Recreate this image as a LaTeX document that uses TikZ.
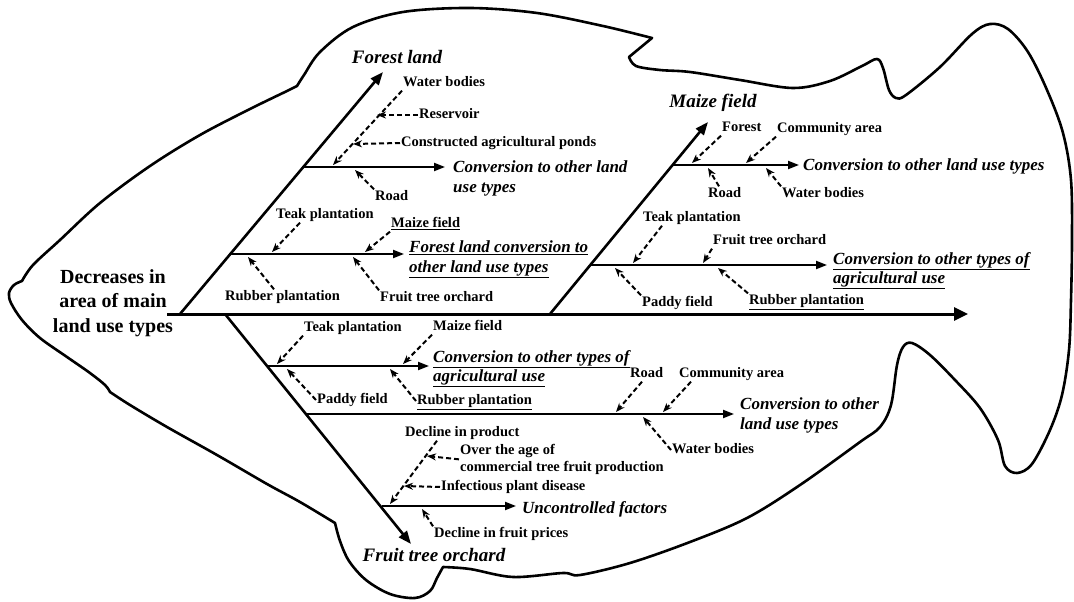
\documentclass[tikz,border=0pt]{standalone}
\usepackage{fontspec}
\setmainfont{Liberation Serif}
\usetikzlibrary{arrows.meta}

\begin{document}
\begin{tikzpicture}[x=1pt,y=-1pt,
    fish/.style={line width=2.6pt,line join=round},
    spine/.style={line width=3pt,-{Triangle[length=14pt,width=13pt]}},
    bone/.style={line width=2.6pt,-{Triangle[length=13pt,width=10pt]}},
    branch/.style={line width=2pt,-{Triangle[length=11pt,width=8pt]}},
    cause/.style={line width=2pt,dash pattern=on 5pt off 3pt,-{Stealth[length=9pt,width=7pt]}},
    lbl/.style={inner sep=1pt,text height=10pt,text depth=3pt,font=\fontsize{14.5}{17}\selectfont\bfseries},
    eff/.style={inner sep=1pt,align=left,font=\fontsize{17}{19.5}\selectfont\bfseries\itshape},
    head/.style={inner sep=1pt,font=\fontsize{19}{22}\selectfont\bfseries\itshape}]
\useasboundingbox (0,0) rectangle (1074,602);

% fish outline
\draw[fish] plot[smooth,tension=.55] coordinates {(22,281) (33,265) (60,240) (100,203) (150,166) (200,135) (250,109) (287,91) (297,86)}
    -- plot[smooth,tension=.55] coordinates {(297,86) (304,75) (320,52) (353,27) (403,12) (470,8) (537,13) (603,26) (652,38)}
    -- plot[smooth,tension=.55] coordinates {(629,57) (636,66) (660,70) (690,72) (740,80) (793,88) (830,81) (862,66) (877,59) (883,68) (889,90) (896,98)
        (906,95) (940,67) (972,34) (990,24) (1008,29) (1028,52) (1047,90) (1063,133) (1071,180) (1072,240) (1071,300) (1069,350) (1062,395)
        (1050,430) (1032,464) (1017,473) (1005,466) (998,440) (980,408) (955,380) (930,355) (912,343) (903,347) (897,365) (891,405) (880,427)
        (860,442) (800,485) (747,518) (690,542) (630,563) (580,575) (563,573) (513,577) (470,569) (443,567)}
    -- plot[smooth,tension=.55] coordinates {(443,567) (437,578) (430,591) (415,598) (390,594) (366,580) (349,561) (340,541) (335,523)}
    -- plot[smooth,tension=.55] coordinates {(335,523) (300,502) (267,484) (217,455) (167,427) (130,405) (110,392)}
    -- plot[smooth,tension=.55] coordinates {(110,392) (105,385) (90,373) (67,357) (40,338) (22,320) (11,303) (9,293) (14,285) (22,281)} -- cycle;

\node[align=center,inner sep=1pt,font=\fontsize{20}{24.5}\selectfont\bfseries] (top) at (113,303) {Decreases in\\area of main\\land use types};

% forest land
\node[head] (fl) at (397,57) {Forest land};
\node[lbl,anchor=west] (wb1) at (402,83) {Water bodies};
\node[lbl,anchor=west] (res) at (418,115) {Reservoir};
\node[lbl,anchor=west] (cap) at (400,143) {Constructed agricultural ponds};
\node[eff,anchor=north west] (ef1) at (452,160) {Conversion to other land\\use types};
\node[lbl,anchor=west] (rd1) at (374,197) {Road};
\node[lbl,anchor=west] (tp1) at (275,215) {Teak plantation};
\node[lbl,anchor=west] (mf1) at (390,224) {\underline{Maize field}};
\node[eff,anchor=north west] (ef2) at (408,240) {\underline{Forest land conversion to}\\\underline{other land use types}};
\node[lbl,anchor=west] (rp1) at (224,297) {Rubber plantation};
\node[lbl,anchor=west] (fo1) at (379,298) {Fruit tree orchard};

% maize field
\node[head] (mz) at (713,103) {Maize field};
\node[lbl,anchor=west] (fr2) at (721,128) {Forest};
\node[lbl,anchor=west] (ca2) at (776,129) {Community area};
\node[eff,anchor=west] (ef3) at (802,166) {Conversion to other land use types};
\node[lbl,anchor=west] (rd2) at (707,194) {Road};
\node[lbl,anchor=west] (wb2) at (781,194) {Water bodies};
\node[lbl,anchor=west] (tp2) at (642,218) {Teak plantation};
\node[lbl,anchor=west] (fo2) at (712,241) {Fruit tree orchard};
\node[eff,anchor=north west] (ef4) at (832,251) {\underline{Conversion to other types of}\\\underline{agricultural use}};
\node[lbl,anchor=west] (pf2) at (641,303) {Paddy field};
\node[lbl,anchor=west] (rp2) at (748,301) {\underline{Rubber plantation}};

% fruit tree orchard
\node[lbl,anchor=west] (tp3) at (303,328) {Teak plantation};
\node[lbl,anchor=west] (mf3) at (432,327) {Maize field};
\node[eff,anchor=north west] (ef5) at (432,349) {\underline{Conversion to other types of}\\\underline{agricultural use}};
\node[lbl,anchor=west] (pf3) at (316,400) {Paddy field};
\node[lbl,anchor=west] (rp3) at (416,401) {\underline{Rubber plantation}};
\node[lbl,anchor=west] (rd3) at (629,374) {Road};
\node[lbl,anchor=west] (ca3) at (678,374) {Community area};
\node[eff,anchor=north west] (ef6) at (739,397) {Conversion to other\\land use types};
\node[lbl,anchor=west] (wb3) at (671,450) {Water bodies};
\node[lbl,anchor=west] (dp) at (404,433) {Decline in product};
\node[inner sep=1pt,align=left,anchor=north west,font=\fontsize{14.5}{17}\selectfont\bfseries] (oa) at (459,443) {Over the age of\\commercial tree fruit production};
\node[lbl,anchor=west] (ipd) at (440,487) {Infectious plant disease};
\node[eff,anchor=west] (ef7) at (521,509) {Uncontrolled factors};
\node[lbl,anchor=west] (dfp) at (433,534) {Decline in fruit prices};
\node[head] (fto) at (434,555) {Fruit tree orchard};

% spine and bones
\coordinate (s0) at (167,314); \coordinate (s1) at (968,314);
\coordinate (fb0) at (180,314); \coordinate (fb1) at (383,72);
\coordinate (mb0) at (550,314); \coordinate (mb1) at (708,122);
\coordinate (ob0) at (225,314); \coordinate (ob1) at (411,544);
\coordinate (fa0) at (303,167); \coordinate (fa1) at (445,167);
\coordinate (fc0) at (229,254); \coordinate (fc1) at (404,254);
\coordinate (ma0) at (673,165); \coordinate (ma1) at (799,165);
\coordinate (mc0) at (590,265); \coordinate (mc1) at (827,265);
\coordinate (oa0) at (268,366); \coordinate (oa1) at (429,366);
\coordinate (oc0) at (307,414); \coordinate (oc1) at (734,414);
\coordinate (od0) at (382,506); \coordinate (od1) at (516,506);
\draw[spine] (s0) -- (s1);
\draw[bone] (fb0) -- (fb1); \draw[bone] (mb0) -- (mb1); \draw[bone] (ob0) -- (ob1);
\draw[branch] (fa0) -- (fa1); \draw[branch] (fc0) -- (fc1);
\draw[branch] (ma0) -- (ma1); \draw[branch] (mc0) -- (mc1);
\draw[branch] (oa0) -- (oa1); \draw[branch] (oc0) -- (oc1); \draw[branch] (od0) -- (od1);

% causes
\coordinate (c1) at (333,165); \coordinate (c2) at (377,115); \coordinate (c3) at (353,144); \coordinate (c4) at (355,170);
\coordinate (c5) at (272,252); \coordinate (c6) at (365,252); \coordinate (c7) at (248,257); \coordinate (c8) at (353,257);
\coordinate (c9) at (692,163); \coordinate (c10) at (746,163); \coordinate (c11) at (708,168); \coordinate (c12) at (766,168);
\coordinate (c13) at (633,263); \coordinate (c14) at (703,263); \coordinate (c15) at (615,268); \coordinate (c16) at (718,268);
\coordinate (c17) at (277,364); \coordinate (c18) at (403,364); \coordinate (c19) at (287,369); \coordinate (c20) at (390,369);
\coordinate (c21) at (616,412); \coordinate (c22) at (663,412); \coordinate (c23) at (643,417);
\coordinate (c24) at (390,504); \coordinate (c25) at (427,456); \coordinate (c26) at (404,486); \coordinate (c27) at (422,509);
\draw[cause] (wb1.south west) -- (c1); \draw[cause] (res.west) -- (c2); \draw[cause] (cap.west) -- (c3); \draw[cause] (rd1.north west) -- (c4);
\draw[cause] ([xshift=25pt]tp1.south west) -- (c5); \draw[cause] (mf1.south west) -- (c6);
\draw[cause] ([xshift=50pt]rp1.north west) -- (c7); \draw[cause] (fo1.north west) -- (c8);
\draw[cause] (fr2.south west) -- (c9); \draw[cause] (ca2.south west) -- (c10);
\draw[cause] ([xshift=12pt]rd2.north west) -- (c11); \draw[cause] (wb2.north west) -- (c12);
\draw[cause] ([xshift=20pt]tp2.south west) -- (c13); \draw[cause] (fo2.south west) -- (c14);
\draw[cause] (pf2.north west) -- (c15); \draw[cause] (rp2.north west) -- (c16);
\draw[cause] (tp3.south west) -- (c17); \draw[cause] (mf3.south west) -- (c18);
\draw[cause] (pf3.west) -- (c19); \draw[cause] (rp3.west) -- (c20);
\draw[cause] ([xshift=13pt]rd3.south west) -- (c21); \draw[cause] ([xshift=13pt]ca3.south west) -- (c22); \draw[cause] (wb3.west) -- (c23);
\draw[cause] ([xshift=33pt]dp.south west) -- (c24); \draw[cause] (oa.west) -- (c25); \draw[cause] (ipd.west) -- (c26); \draw[cause] (dfp.north west) -- (c27);
\end{tikzpicture}
\end{document}
